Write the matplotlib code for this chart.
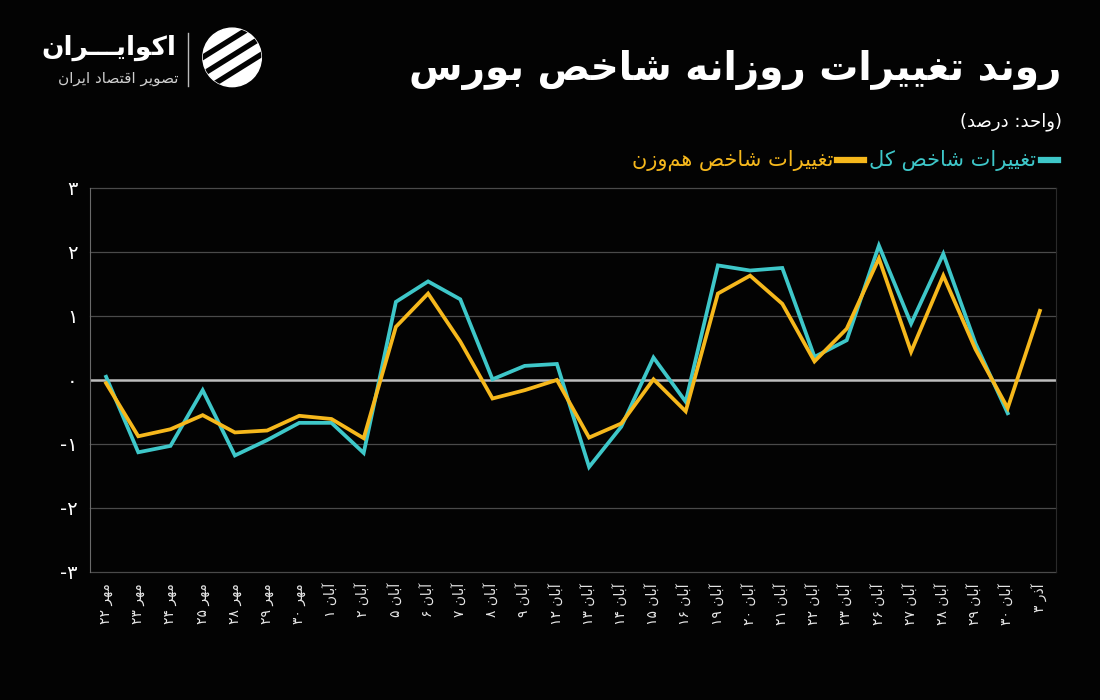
import re
import matplotlib
matplotlib.use("Agg")
import matplotlib.pyplot as plt
from matplotlib.patches import Circle

# --- data -------------------------------------------------------------
dates = ["مهر ۲۲", "مهر ۲۳", "مهر ۲۴", "مهر ۲۵", "مهر ۲۸", "مهر ۲۹", "مهر ۳۰",
         "آبان ۱", "آبان ۲", "آبان ۵", "آبان ۶", "آبان ۷", "آبان ۸", "آبان ۹",
         "آبان ۱۲", "آبان ۱۳", "آبان ۱۴", "آبان ۱۵", "آبان ۱۶", "آبان ۱۹",
         "آبان ۲۰", "آبان ۲۱", "آبان ۲۲", "آبان ۲۳", "آبان ۲۶", "آبان ۲۷",
         "آبان ۲۸", "آبان ۲۹", "آبان ۳۰", "آذر ۳"]

total_index = [0.05, -1.13, -1.03, -0.16, -1.18, -0.94, -0.67, -0.67, -1.14, 1.22,
               1.54, 1.26, 0.01, 0.22, 0.25, -1.36, -0.73, 0.35, -0.34, 1.79,
               1.71, 1.75, 0.36, 0.62, 2.10, 0.88, 1.97, 0.57, -0.52, None]

equal_weight = [-0.05, -0.88, -0.77, -0.55, -0.82, -0.79, -0.56, -0.61, -0.91, 0.83,
                1.35, 0.60, -0.29, -0.16, 0.00, -0.90, -0.68, 0.01, -0.49, 1.35,
                1.63, 1.19, 0.29, 0.80, 1.90, 0.44, 1.63, 0.48, -0.44, 1.08]

y_ticks = [3, 2, 1, 0, -1, -2, -3]
y_labels = ["۳", "۲", "۱", "۰", "-۱", "-۲", "-۳"]

title = "روند تغییرات روزانه شاخص بورس"
unit = "(واحد: درصد)"
name_total = "تغییرات شاخص کل"
name_equal = "تغییرات شاخص هم\u200cوزن"

CYAN = "#3ec7c9"
YELLOW = "#f6b81c"
BG = "#030303"

# --- tiny persian shaper (matplotlib has no arabic shaping) ------------
FORMS = {
    "\u0627": (0xFE8D, 0xFE8E, None, None),
    "\u0622": (0xFE81, 0xFE82, None, None),
    "\u0628": (0xFE8F, 0xFE90, 0xFE91, 0xFE92),
    "\u067E": (0xFB56, 0xFB57, 0xFB58, 0xFB59),
    "\u062A": (0xFE95, 0xFE96, 0xFE97, 0xFE98),
    "\u062B": (0xFE99, 0xFE9A, 0xFE9B, 0xFE9C),
    "\u062C": (0xFE9D, 0xFE9E, 0xFE9F, 0xFEA0),
    "\u0686": (0xFB7A, 0xFB7B, 0xFB7C, 0xFB7D),
    "\u062D": (0xFEA1, 0xFEA2, 0xFEA3, 0xFEA4),
    "\u062E": (0xFEA5, 0xFEA6, 0xFEA7, 0xFEA8),
    "\u062F": (0xFEA9, 0xFEAA, None, None),
    "\u0630": (0xFEAB, 0xFEAC, None, None),
    "\u0631": (0xFEAD, 0xFEAE, None, None),
    "\u0632": (0xFEAF, 0xFEB0, None, None),
    "\u0698": (0xFB8A, 0xFB8B, None, None),
    "\u0633": (0xFEB1, 0xFEB2, 0xFEB3, 0xFEB4),
    "\u0634": (0xFEB5, 0xFEB6, 0xFEB7, 0xFEB8),
    "\u0635": (0xFEB9, 0xFEBA, 0xFEBB, 0xFEBC),
    "\u0636": (0xFEBD, 0xFEBE, 0xFEBF, 0xFEC0),
    "\u0637": (0xFEC1, 0xFEC2, 0xFEC3, 0xFEC4),
    "\u0638": (0xFEC5, 0xFEC6, 0xFEC7, 0xFEC8),
    "\u0639": (0xFEC9, 0xFECA, 0xFECB, 0xFECC),
    "\u063A": (0xFECD, 0xFECE, 0xFECF, 0xFED0),
    "\u0641": (0xFED1, 0xFED2, 0xFED3, 0xFED4),
    "\u0642": (0xFED5, 0xFED6, 0xFED7, 0xFED8),
    "\u06A9": (0xFB8E, 0xFB8F, 0xFB90, 0xFB91),
    "\u06AF": (0xFB92, 0xFB93, 0xFB94, 0xFB95),
    "\u0644": (0xFEDD, 0xFEDE, 0xFEDF, 0xFEE0),
    "\u0645": (0xFEE1, 0xFEE2, 0xFEE3, 0xFEE4),
    "\u0646": (0xFEE5, 0xFEE6, 0xFEE7, 0xFEE8),
    "\u0648": (0xFEED, 0xFEEE, None, None),
    "\u0647": (0xFEE9, 0xFEEA, 0xFEEB, 0xFEEC),
    "\u06CC": (0xFBFC, 0xFBFD, 0xFBFE, 0xFBFF),
    "\u0640": (0x0640, 0x0640, 0x0640, 0x0640),
}


def fa(text):
    out = []
    for i, c in enumerate(text):
        if c not in FORMS:
            out.append(c)
            continue
        iso, fin, ini, med = FORMS[c]
        prev = text[i - 1] if i > 0 else None
        nxt = text[i + 1] if i + 1 < len(text) else None
        jp = prev in FORMS and FORMS[prev][2] is not None
        jn = ini is not None and nxt in FORMS
        if jp and jn:
            g = med
        elif jp:
            g = fin
        elif jn:
            g = ini
        else:
            g = iso
        out.append(chr(g))
    s = "".join(out).replace("\u200c", "")
    tokens = re.findall(r"[0-9\u06f0-\u06f9]+|.", s)
    tokens.reverse()
    mirror = {"(": ")", ")": "("}
    return "".join(mirror.get(t, t) for t in tokens)


plt.rcParams["font.family"] = ["DejaVu Sans"]

fig = plt.figure(figsize=(11, 7), dpi=100, facecolor=BG)
ax = fig.add_axes([0.0818, 0.1829, 0.8782, 0.5486])
ax.set_facecolor(BG)

x = list(range(len(dates)))
ax.plot(x[:-1], total_index[:-1], color=CYAN, lw=2.7, solid_joinstyle="miter", zorder=3)
ax.plot(x, equal_weight, color=YELLOW, lw=2.7, solid_joinstyle="miter", zorder=4)

ax.set_xlim(-0.5, len(dates) - 0.5)
ax.set_ylim(-3, 3)
ax.set_yticks(y_ticks)
ax.set_yticklabels(y_labels, color="white", fontsize=14)
ax.set_xticks(x)
ax.set_xticklabels([fa(d) for d in dates], rotation=90, color="#e6e6e6",
                   fontsize=10, va="top", ha="center")
ax.tick_params(length=0)
ax.tick_params(axis="y", pad=9)
ax.tick_params(axis="x", pad=8)

for v in y_ticks:
    if v == 0:
        ax.axhline(v, color="#bdbdbd", lw=1.8, zorder=2)
    else:
        ax.axhline(v, color="#4a4a4a", lw=0.9, zorder=1, clip_on=False)

for side in ["top", "bottom"]:
    ax.spines[side].set_visible(False)
ax.spines["left"].set_color("#6a6a6a")
ax.spines["right"].set_color("#2a2a2a")

# --- titles & legend --------------------------------------------------
fig.text(0.965, 0.900, fa(title), ha="right", va="center", color="white",
         fontsize=28, fontweight="bold")
fig.text(0.965, 0.826, fa(unit), ha="right", va="center", color="white", fontsize=13)

renderer = fig.canvas.get_renderer()
W = fig.get_figwidth() * fig.dpi
ly = 0.771
fig.lines.append(plt.Line2D([0.946, 0.962], [ly, ly], transform=fig.transFigure,
                            color=CYAN, lw=4.5))
t1 = fig.text(0.942, ly, fa(name_total), ha="right", va="center", color=CYAN, fontsize=15)
x_left = t1.get_window_extent(renderer).x0 / W
fig.lines.append(plt.Line2D([x_left - 0.029, x_left - 0.005], [ly, ly],
                            transform=fig.transFigure, color=YELLOW, lw=4.5))
fig.text(x_left - 0.033, ly, fa(name_equal), ha="right", va="center", color=YELLOW,
         fontsize=15)

# --- logo ---------------------------------------------------------------
fig.text(0.160, 0.931, fa("اکوایـــران"), ha="right", va="center", color="white",
         fontsize=19, fontweight="bold")
fig.text(0.162, 0.888, fa("تصویر اقتصاد ایران"), ha="right", va="center",
         color="#cfcfcf", fontsize=11)
fig.lines.append(plt.Line2D([0.171, 0.171], [0.877, 0.953], transform=fig.transFigure,
                            color="#bbbbbb", lw=1))
lax = fig.add_axes([0.183, 0.874, 0.056, 0.088])
lax.set_xlim(-1, 1)
lax.set_ylim(-1, 1)
lax.set_aspect("equal")
lax.axis("off")
disk = Circle((0, 0), 0.95, color="white")
lax.add_patch(disk)
for off in [-0.5, 0.05, 0.6]:
    ln, = lax.plot([-1.2, 1.2], [off - 0.75, off + 0.75], color=BG, lw=4)
    ln.set_clip_path(disk)

fig.savefig("out.png", dpi=100, facecolor=BG)
